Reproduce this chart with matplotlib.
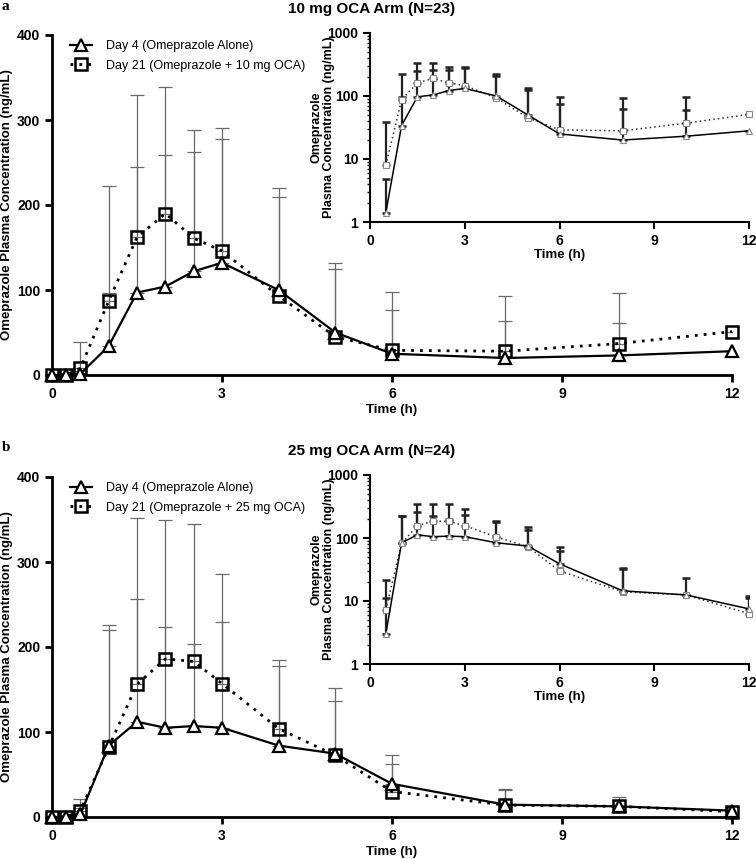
import numpy as np
import matplotlib.pyplot as plt
from matplotlib.ticker import LogLocator, NullFormatter, FixedLocator

plt.rcParams['font.family'] = ['Liberation Sans', 'DejaVu Sans']

# sampling times (h)
time_h = [0, 0.25, 0.5, 1, 1.5, 2, 2.5, 3, 4, 5, 6, 8, 10, 12]

# panel a: 10 mg OCA arm, mean and mean+SD (ng/mL)
a_day4 = [0, 0, 1.4, 34, 97, 104, 122, 132, 100, 50, 25, 20, 23, 28]
a_day21 = [0, 0, 8, 87, 162, 190, 161, 146, 93, 45, 29, 28, 37, 51]
a_day4_upper = [np.nan, np.nan, 4.8, 96, 245, 259, 262, 278, 209, 125, 76, 63, 61, np.nan]
a_day21_upper = [np.nan, np.nan, 39, 222, 329, 339, 288, 291, 220, 132, 98, 93, 97, np.nan]

# panel b: 25 mg OCA arm
b_day4 = [0, 0, 3, 84, 112, 105, 107, 105, 84, 74.5, 39, 14.5, 12.5, 7.5]
b_day21 = [0, 0, 7.3, 82, 156, 186, 183, 157, 104, 72.5, 30, 14, 12.5, 6.3]
b_day4_upper = [np.nan, np.nan, 11, 220, 257, 224, 203, 229, 178, 136, 73, 32, np.nan, 12]
b_day21_upper = [np.nan, np.nan, 21.5, 226, 352, 349, 345, 286, 185, 152, 62, 33, 23, 11]

x_ticks = [0, 3, 6, 9, 12]
main_y_ticks = [0, 100, 200, 300, 400]
log_y_ticks = [1, 10, 100, 1000]

W, H = 756, 859


def rect(left, top, right, bottom):
    return [left / W, 1 - bottom / H, (right - left) / W, (bottom - top) / H]


def upper_err(mean, upper):
    mean = np.array(mean, dtype=float)
    up = np.array(upper, dtype=float) - mean
    return [np.zeros_like(up), up]


def style_axes(ax, lw):
    ax.spines['top'].set_visible(False)
    ax.spines['right'].set_visible(False)
    ax.spines['left'].set_linewidth(lw)
    ax.spines['bottom'].set_linewidth(lw)
    ax.tick_params(direction='out', width=lw, length=5, labelsize=10)
    for lab in ax.get_xticklabels() + ax.get_yticklabels():
        lab.set_fontweight('bold')


def draw_panel(fig, top, day4, day21, day4_up, day21_up, dose, title, letter):
    t = np.array(time_h)

    # main linear panel
    ax = fig.add_axes(rect(52, top + 35, 732, top + 375))
    ax.errorbar(t, day21, yerr=upper_err(day21, day21_up), fmt='none',
                ecolor='#6a6a6a', elinewidth=0.9, capsize=5, capthick=0.9, zorder=2)
    ax.errorbar(t, day4, yerr=upper_err(day4, day4_up), fmt='none',
                ecolor='#6a6a6a', elinewidth=0.9, capsize=5, capthick=0.9, zorder=2)
    ax.plot(t, day4, color='black', lw=1.6, marker='^', markersize=9,
            markerfacecolor='white', markeredgewidth=1.6, clip_on=False,
            zorder=4, label='Day 4 (Omeprazole Alone)')
    ax.plot(t, day21, color='black', lw=2, linestyle=(0, (1, 2.2)), marker='s',
            markersize=8, markerfacecolor='none', markeredgewidth=1.8,
            clip_on=False, zorder=3, label=f'Day 21 (Omeprazole + {dose} mg OCA)')
    ax.set_xlim(0, 12)
    ax.set_ylim(0, 400)
    ax.set_xticks(x_ticks)
    ax.set_yticks(main_y_ticks)
    style_axes(ax, 2)
    ax.set_xlabel('Time (h)', fontweight='bold', fontsize=9.5, labelpad=2)
    ax.set_ylabel('Omeprazole Plasma Concentration (ng/mL)', fontweight='bold',
                  fontsize=9.5)
    ax.yaxis.set_label_coords(-0.057, 0.5)
    ax.legend(loc='upper left', bbox_to_anchor=(0.019, 1.0), borderaxespad=0,
              frameon=False, fontsize=9, handlelength=1.8, handletextpad=1.1,
              labelspacing=0.6)

    # log inset
    ins = fig.add_axes(rect(370, top + 33, 749, top + 222))
    ti = t[2:]
    ins.errorbar(ti, day21[2:], yerr=upper_err(day21[2:], day21_up[2:]), fmt='none',
                 ecolor='#222222', elinewidth=1.6, capsize=3, capthick=1.8, zorder=2)
    ins.errorbar(ti, day4[2:], yerr=upper_err(day4[2:], day4_up[2:]), fmt='none',
                 ecolor='#222222', elinewidth=1.6, capsize=3, capthick=1.8, zorder=2)
    ins.plot(ti, day4[2:], color='black', lw=1.1, marker='^', markersize=5,
             markerfacecolor='white', markeredgecolor='#888888', markeredgewidth=0.8,
             clip_on=False, zorder=4)
    ins.plot(ti, day21[2:], color='#333333', lw=1.1, linestyle=(0, (1, 2)), marker='s',
             markersize=5, markerfacecolor='white', markeredgecolor='#888888',
             markeredgewidth=0.8, clip_on=False, zorder=3)
    ins.set_yscale('log')
    ins.set_xlim(0, 12)
    ins.set_ylim(1, 1000)
    ins.set_xticks(x_ticks)
    ins.yaxis.set_major_locator(FixedLocator(log_y_ticks))
    ins.set_yticklabels([str(v) for v in log_y_ticks])
    ins.yaxis.set_minor_locator(LogLocator(base=10, subs=np.arange(2, 10)))
    ins.yaxis.set_minor_formatter(NullFormatter())
    style_axes(ins, 1.5)
    ins.tick_params(axis='y', which='minor', length=2.5, width=1)
    ins.set_xlabel('Time (h)', fontweight='bold', fontsize=9.5, labelpad=1)
    ins.set_ylabel('Omeprazole\nPlasma Concentration (ng/mL)', fontweight='bold',
                   fontsize=9, linespacing=1.05)
    ins.yaxis.set_label_coords(-0.092, 0.5)

    fig.text(372 / W, 1 - (top + 9) / H, title, ha='center', va='center',
             fontweight='bold', fontsize=11)
    fig.text(2 / W, 1 - (top + 6) / H, letter, ha='left', va='center',
             fontweight='bold', fontsize=11, family='Liberation Serif')


fig = plt.figure(figsize=(7.56, 8.59), dpi=100)
draw_panel(fig, 0, a_day4, a_day21, a_day4_upper, a_day21_upper, 10,
           '10 mg OCA Arm (N=23)', 'a')
draw_panel(fig, 442, b_day4, b_day21, b_day4_upper, b_day21_upper, 25,
           '25 mg OCA Arm (N=24)', 'b')
fig.savefig('out.png', dpi=100)
